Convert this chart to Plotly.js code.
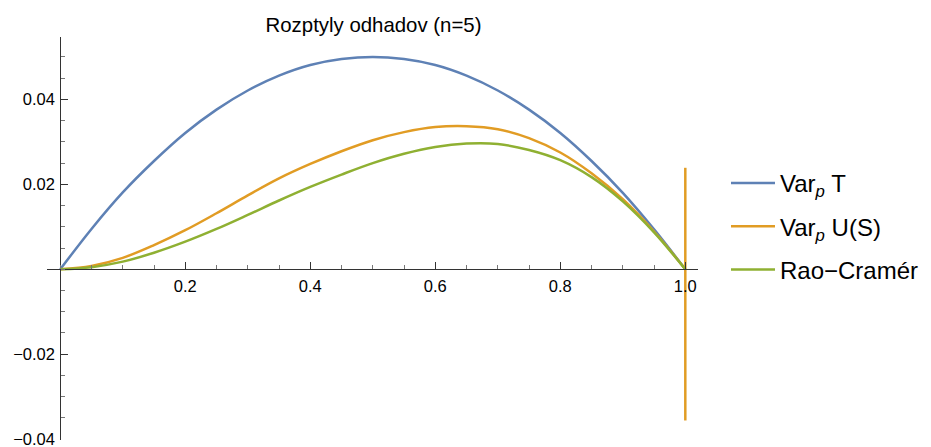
<!DOCTYPE html>
<html>
<head>
<meta charset="utf-8">
<script src="https://cdn.plot.ly/plotly-3.0.1.min.js"></script>
<style>html,body{margin:0;padding:0;background:#fff;}#chart{width:931px;height:447px;}</style>
</head>
<body>
<div id="chart"></div>
<script>
// p values
var pValues = [0, 0.05, 0.1, 0.15, 0.2, 0.25, 0.3, 0.35, 0.4, 0.45, 0.5, 0.55, 0.6, 0.65, 0.7, 0.75, 0.8, 0.85, 0.9, 0.95, 1.0];
// Var_p T
var varT = [0, 0.0095, 0.0181, 0.0255, 0.0321, 0.0376, 0.0421, 0.0456, 0.0481, 0.0495, 0.0500, 0.0495, 0.0481, 0.0456, 0.0421, 0.0376, 0.0321, 0.0255, 0.0180, 0.0094, 0];
// Var_p U(S)
var varU = [0, 0.0008, 0.0027, 0.0057, 0.0092, 0.0132, 0.0174, 0.0214, 0.0248, 0.0278, 0.0304, 0.0323, 0.0335, 0.0337, 0.0330, 0.0309, 0.0275, 0.0226, 0.0165, 0.0089, 0];
// numerical spike of Var_p U(S) at p = 1
var spikeX = [1.0, 1.0];
var spikeY = [0.0239, -0.0356];
// Rao-Cramér bound
var raoCramer = [0, 0.0005, 0.0018, 0.0039, 0.0065, 0.0095, 0.0128, 0.0162, 0.0194, 0.0223, 0.0250, 0.0272, 0.0288, 0.0296, 0.0295, 0.0281, 0.0257, 0.0217, 0.0160, 0.0087, 0];

var seriesNames = ['Var<sub><i>p</i></sub> T', 'Var<sub><i>p</i></sub> U(S)', 'Rao\u2212Cramér'];
var xTickVals = [0.2, 0.4, 0.6, 0.8, 1.0];
var xTickText = ['0.2', '0.4', '0.6', '0.8', '1.0'];
var yTickVals = [-0.04, -0.02, 0.02, 0.04];
var yTickText = ['\u22120.04', '\u22120.02', '0.02', '0.04'];

var blue = '#5E81B5', orange = '#E19C24', green = '#8FB032';
var xRange = [-0.0212, 1.0203];
var yRange = [-0.0402, 0.0547];

var xMinor = [], yMinor = [];
for (var i = 0; i <= 20; i++) xMinor.push(i * 0.05);
for (var j = -8; j <= 10; j++) yMinor.push(j * 0.005);

var traces = [
  {x: pValues, y: varT, mode: 'lines', name: seriesNames[0], line: {color: blue, width: 2.5, shape: 'spline'}, legendgroup: 'a'},
  {x: pValues, y: varU, mode: 'lines', name: seriesNames[1], line: {color: orange, width: 2.5, shape: 'spline'}, legendgroup: 'b'},
  {x: spikeX, y: spikeY, mode: 'lines', name: seriesNames[1], line: {color: orange, width: 2.5}, legendgroup: 'b', showlegend: false},
  {x: pValues, y: raoCramer, mode: 'lines', name: seriesNames[2], line: {color: green, width: 2.5, shape: 'spline'}, legendgroup: 'c'}
];

var axisFont = {family: 'Liberation Sans, Arial, sans-serif', size: 16.5, color: '#000'};

var layout = {
  width: 931, height: 447,
  margin: {l: 47, r: 231, t: 37, b: 7, pad: 0},
  paper_bgcolor: '#fff', plot_bgcolor: '#fff',
  showlegend: true,
  title: {text: 'Rozptyly odhadov (n=5)', font: {family: 'Liberation Sans, Arial, sans-serif', size: 20.4, color: '#000'},
          x: 0.4012, xanchor: 'center', yref: 'container', y: 1 - 24.7 / 447, yanchor: 'middle'},
  xaxis: {
    range: xRange, anchor: 'free', position: (0 - yRange[0]) / (yRange[1] - yRange[0]),
    showgrid: false, zeroline: false, showline: true, linecolor: '#333', linewidth: 1,
    tickmode: 'array', tickvals: xTickVals, ticktext: xTickText,
    ticks: 'inside', ticklen: 7, tickwidth: 1, tickcolor: '#333',
    tickfont: axisFont, ticklabelstandoff: 2, ticklabeloverflow: 'allow',
    minor: {tickmode: 'array', tickvals: xMinor, ticks: 'inside', ticklen: 4, tickwidth: 1, tickcolor: '#777', showgrid: false}
  },
  yaxis: {
    range: yRange, anchor: 'free', position: (0 - xRange[0]) / (xRange[1] - xRange[0]),
    showgrid: false, zeroline: false, showline: true, linecolor: '#333', linewidth: 1,
    tickmode: 'array', tickvals: yTickVals, ticktext: yTickText,
    ticks: 'inside', ticklen: 7, tickwidth: 1, tickcolor: '#333',
    tickfont: axisFont, ticklabelstandoff: 2, ticklabeloverflow: 'allow',
    minor: {tickmode: 'array', tickvals: yMinor, ticks: 'inside', ticklen: 4, tickwidth: 1, tickcolor: '#777', showgrid: false}
  },
  legend: {
    x: 1.043, xanchor: 'left', y: 0.53, yanchor: 'middle',
    font: {family: 'Liberation Sans, Arial, sans-serif', size: 24, color: '#000'},
    bgcolor: 'rgba(0,0,0,0)', tracegroupgap: 9, itemwidth: 44
  }
};

Plotly.newPlot('chart', traces, layout, {displayModeBar: false, staticPlot: true});
</script>
</body>
</html>
